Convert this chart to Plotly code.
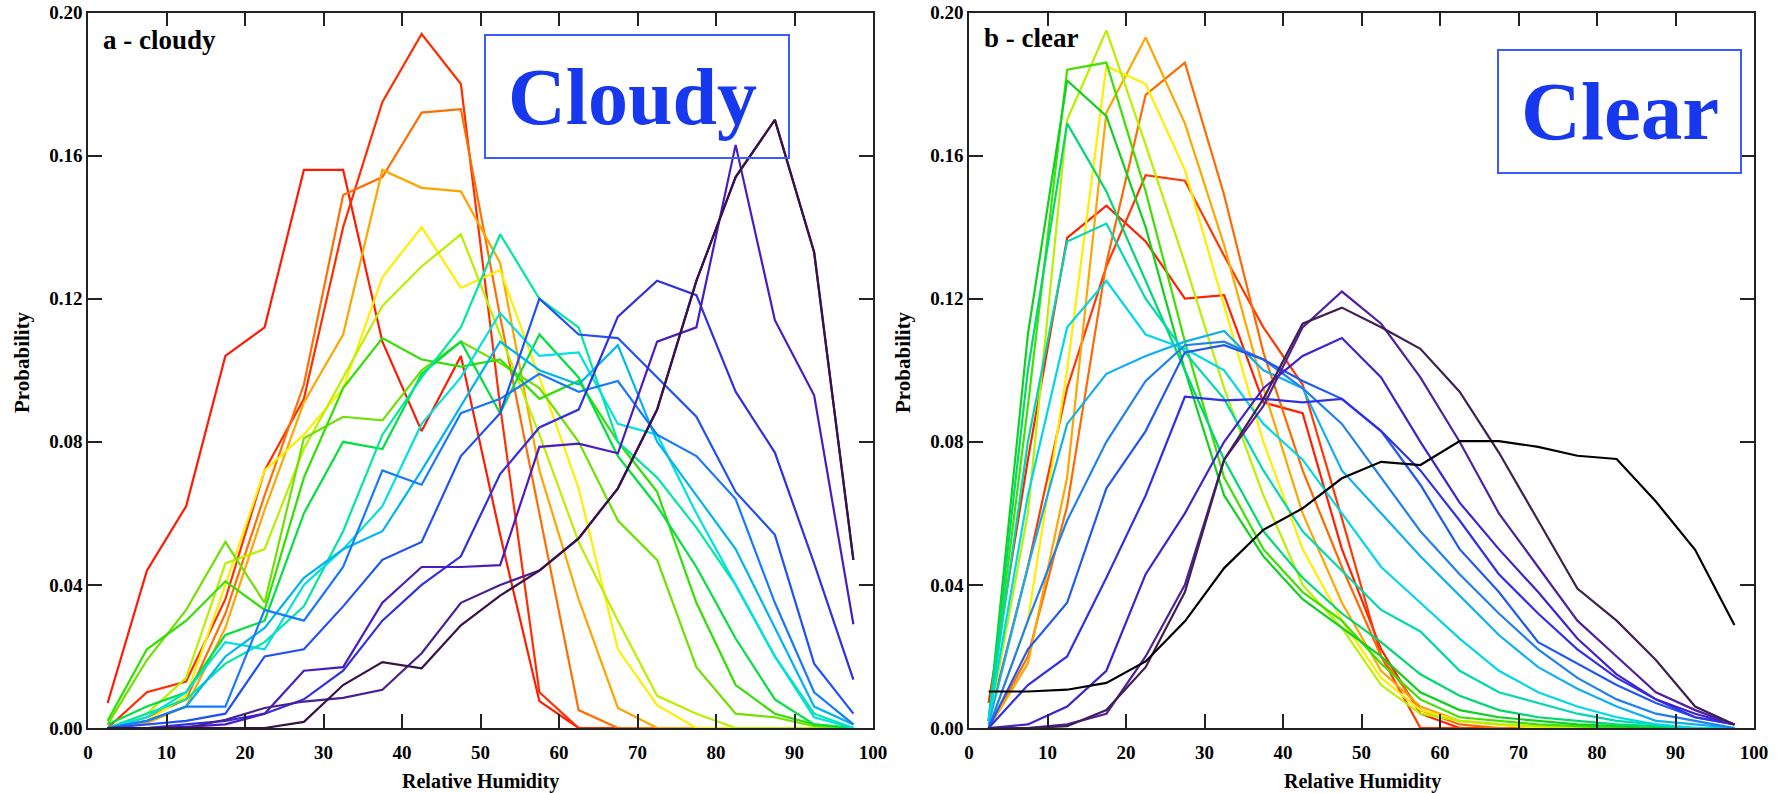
import plotly.graph_objects as go

rh_bins = [2.5, 7.5, 12.5, 17.5, 22.5, 27.5, 32.5, 37.5, 42.5, 47.5,
           52.5, 57.5, 62.5, 67.5, 72.5, 77.5, 82.5, 87.5, 92.5, 97.5]
x_ticks = [0, 10, 20, 30, 40, 50, 60, 70, 80, 90, 100]
y_ticks = [0.00, 0.04, 0.08, 0.12, 0.16, 0.20]

# ---- panel a : cloudy ----
cloudy = [
    [0.007, 0.044, 0.062, 0.104, 0.112, 0.156, 0.156, 0.108, 0.083, 0.104, 0.054, 0.0075, 0, 0, 0, 0, 0, 0, 0, 0],
    [0.000, 0.010, 0.013, 0.036, 0.072, 0.092, 0.140, 0.175, 0.194, 0.180, 0.090, 0.010, 0, 0, 0, 0, 0, 0, 0, 0],
    [0.000, 0.003, 0.008, 0.032, 0.065, 0.096, 0.149, 0.154, 0.172, 0.173, 0.115, 0.060, 0.005, 0, 0, 0, 0, 0, 0, 0],
    [0.000, 0.0014, 0.006, 0.028, 0.061, 0.091, 0.110, 0.156, 0.151, 0.150, 0.130, 0.072, 0.036, 0.0056, 0, 0, 0, 0, 0, 0],
    [0.000, 0.002, 0.009, 0.040, 0.072, 0.082, 0.095, 0.126, 0.140, 0.123, 0.128, 0.098, 0.067, 0.022, 0.0064, 0, 0, 0, 0, 0],
    [0.000, 0.004, 0.014, 0.046, 0.050, 0.078, 0.098, 0.118, 0.129, 0.138, 0.110, 0.082, 0.052, 0.030, 0.009, 0.004, 0, 0, 0, 0],
    [0.001, 0.019, 0.033, 0.052, 0.035, 0.081, 0.087, 0.086, 0.100, 0.108, 0.102, 0.095, 0.080, 0.058, 0.047, 0.017, 0.004, 0.003, 0.0005, 0],
    [0.002, 0.022, 0.030, 0.041, 0.033, 0.070, 0.095, 0.109, 0.103, 0.101, 0.103, 0.092, 0.097, 0.080, 0.066, 0.035, 0.012, 0.004, 0.001, 0],
    [0.001, 0.006, 0.010, 0.026, 0.030, 0.060, 0.080, 0.078, 0.099, 0.108, 0.088, 0.110, 0.098, 0.076, 0.062, 0.045, 0.025, 0.008, 0.001, 0],
    [0.000, 0.004, 0.008, 0.018, 0.024, 0.034, 0.055, 0.082, 0.098, 0.112, 0.138, 0.120, 0.112, 0.080, 0.070, 0.056, 0.040, 0.020, 0.004, 0],
    [0.000, 0.003, 0.010, 0.024, 0.022, 0.040, 0.050, 0.062, 0.085, 0.098, 0.116, 0.104, 0.105, 0.085, 0.082, 0.060, 0.040, 0.020, 0.003, 0],
    [0.000, 0.002, 0.006, 0.020, 0.028, 0.042, 0.050, 0.055, 0.072, 0.090, 0.108, 0.100, 0.096, 0.107, 0.080, 0.065, 0.050, 0.028, 0.006, 0.001],
    [0.000, 0.002, 0.006, 0.006, 0.033, 0.030, 0.045, 0.072, 0.068, 0.088, 0.092, 0.099, 0.094, 0.097, 0.082, 0.076, 0.064, 0.035, 0.010, 0.001],
    [0.000, 0.001, 0.002, 0.004, 0.020, 0.022, 0.034, 0.047, 0.052, 0.076, 0.088, 0.120, 0.110, 0.109, 0.098, 0.087, 0.066, 0.054, 0.018, 0.004],
    [0.000, 0.000, 0.001, 0.002, 0.004, 0.008, 0.016, 0.030, 0.040, 0.048, 0.071, 0.084, 0.089, 0.115, 0.125, 0.121, 0.094, 0.077, 0.046, 0.0135],
    [0.000, 0.000, 0.0003, 0.001, 0.004, 0.016, 0.017, 0.035, 0.045, 0.045, 0.0455, 0.0786, 0.0795, 0.0768, 0.108, 0.112, 0.163, 0.114, 0.093, 0.029],
    [0.000, 0.000, 0.000, 0.0023, 0.0056, 0.0074, 0.0084, 0.0107, 0.0209, 0.035, 0.040, 0.044, 0.053, 0.067, 0.089, 0.125, 0.154, 0.170, 0.133, 0.047],
    [0.000, 0.000, 0.000, 0.000, 0.000, 0.0017, 0.012, 0.0184, 0.0167, 0.0287, 0.037, 0.044, 0.053, 0.067, 0.089, 0.125, 0.154, 0.170, 0.133, 0.047],
]

# ---- panel b : clear ----
clear = [
    [0.007, 0.075, 0.137, 0.146, 0.136, 0.120, 0.121, 0.091, 0.088, 0.050, 0.022, 0.004, 0, 0, 0, 0, 0, 0, 0, 0],
    [0.002, 0.045, 0.095, 0.129, 0.1545, 0.153, 0.132, 0.112, 0.096, 0.0586, 0.020, 0.000, 0, 0, 0, 0, 0, 0, 0, 0],
    [0.000, 0.020, 0.062, 0.130, 0.177, 0.186, 0.149, 0.105, 0.072, 0.045, 0.020, 0.005, 0.001, 0, 0, 0, 0, 0, 0, 0],
    [0.000, 0.018, 0.070, 0.172, 0.193, 0.169, 0.135, 0.095, 0.060, 0.035, 0.016, 0.006, 0.002, 0.001, 0, 0, 0, 0, 0, 0],
    [0.000, 0.030, 0.100, 0.185, 0.180, 0.156, 0.118, 0.080, 0.050, 0.030, 0.014, 0.005, 0.002, 0.001, 0, 0, 0, 0, 0, 0],
    [0.001, 0.060, 0.170, 0.195, 0.163, 0.130, 0.095, 0.065, 0.040, 0.028, 0.012, 0.004, 0.002, 0.001, 0.0005, 0, 0, 0, 0, 0],
    [0.002, 0.090, 0.184, 0.186, 0.150, 0.108, 0.070, 0.050, 0.038, 0.030, 0.018, 0.008, 0.003, 0.002, 0.001, 0.0005, 0, 0, 0, 0],
    [0.002, 0.110, 0.181, 0.171, 0.140, 0.100, 0.065, 0.048, 0.036, 0.028, 0.020, 0.010, 0.005, 0.003, 0.002, 0.001, 0.0005, 0, 0, 0],
    [0.002, 0.100, 0.169, 0.150, 0.125, 0.100, 0.075, 0.055, 0.042, 0.032, 0.024, 0.015, 0.009, 0.005, 0.003, 0.002, 0.001, 0.0005, 0, 0],
    [0.002, 0.080, 0.136, 0.141, 0.120, 0.105, 0.092, 0.072, 0.055, 0.044, 0.033, 0.027, 0.016, 0.010, 0.007, 0.004, 0.002, 0.001, 0, 0],
    [0.002, 0.065, 0.112, 0.125, 0.110, 0.106, 0.100, 0.085, 0.075, 0.060, 0.045, 0.035, 0.025, 0.016, 0.010, 0.006, 0.003, 0.001, 0, 0],
    [0.001, 0.045, 0.085, 0.099, 0.104, 0.108, 0.111, 0.100, 0.095, 0.072, 0.060, 0.048, 0.037, 0.026, 0.017, 0.011, 0.006, 0.002, 0.001, 0],
    [0.000, 0.030, 0.058, 0.080, 0.097, 0.107, 0.108, 0.103, 0.095, 0.085, 0.070, 0.055, 0.043, 0.032, 0.022, 0.014, 0.008, 0.004, 0.002, 0],
    [0.000, 0.022, 0.035, 0.067, 0.083, 0.105, 0.107, 0.103, 0.097, 0.092, 0.083, 0.068, 0.050, 0.038, 0.024, 0.018, 0.012, 0.007, 0.003, 0.001],
    [0.000, 0.012, 0.020, 0.042, 0.065, 0.0926, 0.0916, 0.092, 0.091, 0.092, 0.083, 0.072, 0.058, 0.043, 0.032, 0.022, 0.014, 0.008, 0.003, 0.001],
    [0.000, 0.001, 0.006, 0.016, 0.043, 0.060, 0.080, 0.095, 0.104, 0.109, 0.098, 0.080, 0.063, 0.050, 0.038, 0.025, 0.015, 0.008, 0.004, 0.001],
    [0.000, 0.000, 0.001, 0.004, 0.020, 0.040, 0.075, 0.090, 0.112, 0.122, 0.113, 0.098, 0.080, 0.060, 0.045, 0.030, 0.020, 0.010, 0.005, 0.001],
    [0.000, 0.000, 0.0005, 0.005, 0.017, 0.038, 0.075, 0.092, 0.113, 0.1175, 0.112, 0.106, 0.094, 0.077, 0.058, 0.039, 0.030, 0.019, 0.006, 0.001],
    [0.0102, 0.0102, 0.0107, 0.0126, 0.0186, 0.0298, 0.0447, 0.0554, 0.0614, 0.0698, 0.0744, 0.0735, 0.0802, 0.0802, 0.0786, 0.0761, 0.0752, 0.0633, 0.0498, 0.0288],
]

cloudy_colors = ["#ff1a00", "#ff2e00", "#ff6e00", "#ffa500", "#ffee00", "#b8f000",
                 "#70e000", "#30e000", "#00e040", "#00e8a0", "#00e0e0", "#00b4f0",
                 "#1878ff", "#2050f8", "#3030e0", "#4a1cc0", "#4a2090", "#3a1048"]
clear_colors = ["#ff2000", "#ff3a00", "#ff6a00", "#ffa500", "#ffee00", "#b8f000",
                "#40e000", "#10d020", "#00d870", "#00d8b0", "#00d8e8", "#10b0f0",
                "#2080f0", "#2058f0", "#3030e8", "#4020d0", "#5020a0", "#402050", "#000000"]

W, H = 1777, 793
fig = go.Figure()

for ys, c in zip(cloudy, cloudy_colors):
    fig.add_trace(go.Scatter(x=rh_bins, y=ys, mode="lines", xaxis="x", yaxis="y",
                             line=dict(color=c, width=2.2), showlegend=False))
for ys, c in zip(clear, clear_colors):
    fig.add_trace(go.Scatter(x=rh_bins, y=ys, mode="lines", xaxis="x2", yaxis="y2",
                             line=dict(color=c, width=2.2), showlegend=False))

font_ticks = dict(family="Liberation Serif", size=19, color="black", weight="bold")
common_x = dict(range=[0, 100], tickvals=x_ticks, ticks="inside", ticklen=14, tickwidth=1.5,
                tickcolor="#222", showline=True, linecolor="#222", linewidth=1.6, mirror="ticks",
                showgrid=False, zeroline=False, tickfont=font_ticks, automargin=False,
                ticklabelstandoff=6)
common_y = dict(range=[0, 0.2], tickvals=y_ticks, tickformat=".2f", ticks="inside", ticklen=14,
                tickwidth=1.5, tickcolor="#222", showline=True, linecolor="#222", linewidth=1.6,
                mirror="ticks", showgrid=False, zeroline=False, tickfont=font_ticks, automargin=False)

ydom = [1 - 728 / H, 1 - 12.5 / H]
fig.update_layout(
    width=W, height=H, margin=dict(l=0, r=0, t=0, b=0),
    paper_bgcolor="white", plot_bgcolor="white",
    xaxis=dict(domain=[88 / W, 873 / W], anchor="y", **common_x),
    yaxis=dict(domain=ydom, anchor="x", **common_y),
    xaxis2=dict(domain=[969 / W, 1754 / W], anchor="y2", **common_x),
    yaxis2=dict(domain=ydom, anchor="x2", **common_y),
    font=dict(family="Liberation Serif"),
)

def px(xp):
    return xp / W

def py(yp):
    return 1 - yp / H

ann = []
for cx in (481, 1362):
    ann.append(dict(text="<b>Relative Humidity</b>", x=px(cx), y=py(781), xref="paper", yref="paper",
                    showarrow=False, xanchor="center", yanchor="middle",
                    font=dict(family="Liberation Serif", size=20, color="black")))
for cx in (22, 903):
    ann.append(dict(text="<b>Probability</b>", x=px(cx), y=py(362), xref="paper", yref="paper",
                    showarrow=False, textangle=-90, xanchor="center", yanchor="middle",
                    font=dict(family="Liberation Serif", size=21, color="black")))
ann.append(dict(text="<b>a - cloudy</b>", x=px(101), y=py(40), xref="paper", yref="paper",
                showarrow=False, xanchor="left", yanchor="middle",
                font=dict(family="Liberation Serif", size=27, color="black")))
ann.append(dict(text="<b>b - clear</b>", x=px(982), y=py(38), xref="paper", yref="paper",
                showarrow=False, xanchor="left", yanchor="middle",
                font=dict(family="Liberation Serif", size=27, color="black")))
ann.append(dict(text="<b>Cloudy</b>", x=px(632), y=py(97), xref="paper", yref="paper",
                showarrow=False, xanchor="center", yanchor="middle",
                font=dict(family="Liberation Serif", size=80, color="#1838f0")))
ann.append(dict(text="<b>Clear</b>", x=px(1620), y=py(111), xref="paper", yref="paper",
                showarrow=False, xanchor="center", yanchor="middle",
                font=dict(family="Liberation Serif", size=83, color="#1838f0")))
fig.update_layout(annotations=ann)

fig.add_shape(type="rect", xref="paper", yref="paper", x0=px(485), x1=px(789), y0=py(158), y1=py(35),
              line=dict(color="#3a5cff", width=2), fillcolor="rgba(0,0,0,0)")
fig.add_shape(type="rect", xref="paper", yref="paper", x0=px(1498), x1=px(1741), y0=py(173), y1=py(50),
              line=dict(color="#3a5cff", width=2), fillcolor="rgba(0,0,0,0)")

fig.write_html("out.html")
